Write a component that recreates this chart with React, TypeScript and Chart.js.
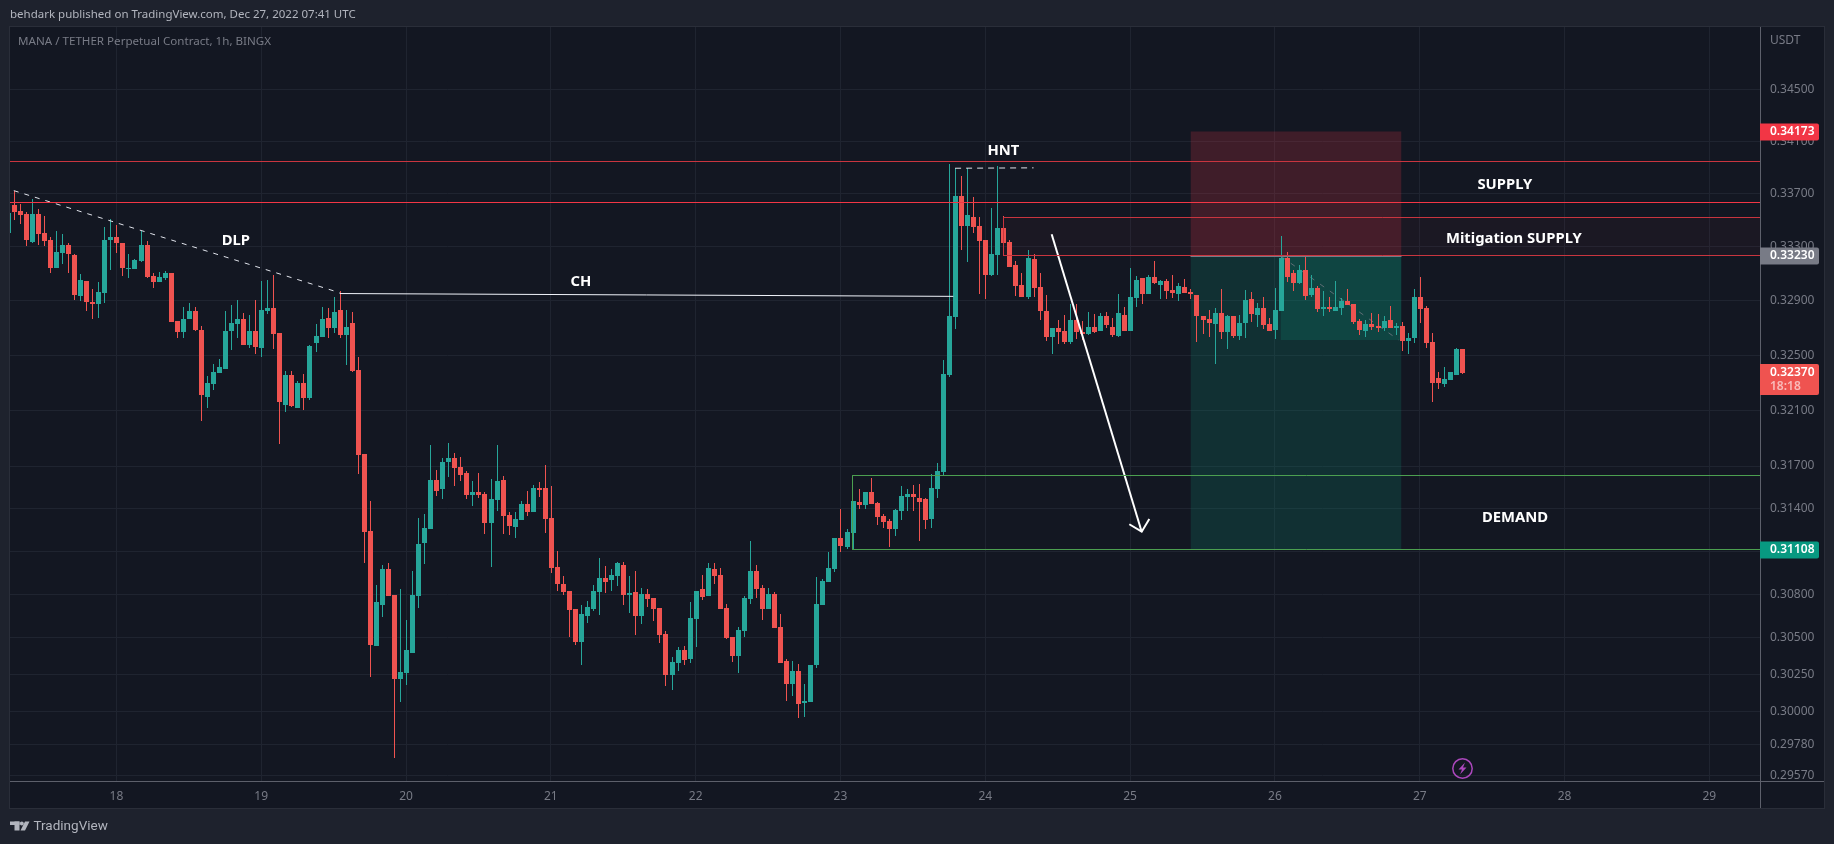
import React, { useEffect, useRef } from "react";
import { Chart, registerables } from "chart.js";

Chart.register(...registerables);

const FONT = "'Noto Sans', sans-serif";
const firstBar = -1;

const opens = [
.33405,.33615,.33570,.33548,.33337,.33548,.33405,.33352,.33143,.33255,
.33315,.33240,.32935,.33046,.32890,.32876,.32957,.33352,.33375,.33330,
.33136,.33136,.33195,.33315,.33084,.33039,.33069,.33106,.32750,.32669,
.32765,.32824,.32684,.32196,.32290,.32370,.32399,.32677,.32728,.32765,
.32574,.32677,.32552,.32824,.32846,.32662,.32138,.32355,.32116,.32297,
.32189,.32589,.32633,.32773,.32699,.32831,.32648,.32736,.32392,.31786,
.31241,.30444,.30726,.30975,.30795,.30219,.30260,.30396,.30788,.31156,
.31255,.31601,.31537,.31729,.31757,.31693,.31651,.31495,.31516,.31502,
.31297,.31459,.31601,.31353,.31269,.31318,.31431,.31375,.31544,.31544,
.31332,.30989,.30871,.30823,.30698,.30471,.30650,.30698,.30816,.30913,
.30899,.30927,.31003,.30795,.30816,.30650,.30802,.30774,.30705,.30526,
.30246,.30328,.30416,.30355,.30629,.30837,.30788,.30975,.30934,.30705,
.30505,.30375,.30547,.30767,.30961,.30844,.30698,.30802,.30574,.30341,
.30185,.30273,.30056,.30063,.30314,.30726,.30885,.30975,.31192,.31128,
.31227,.31445,.31424,.31516,.31438,.31346,.31311,.31255,.31382,.31480,
.31502,.31473,.31466,.31325,.31537,.31658,.32355,.32780,.33683,.33458,
.33525,.33458,.33352,.33091,.33240,.33443,.33337,.33165,.33017,.32927,
.33210,.33002,.32824,.32633,.32699,.32677,.32596,.32758,.32669,.32655,
.32706,.32677,.32787,.32706,.32640,.32795,.32677,.32920,.33069,.32950,
.33076,.33017,.33046,.32979,.32950,.33002,.32965,.32942,.32787,.32765,
.32728,.32809,.32669,.32787,.32640,.32736,.32912,.32795,.32846,.32728,
.32684,.32824,.33217,.33106,.33032,.33128,.32942,.32994,.32839,.32853,
.32824,.32846,.32898,.32876,.32750,.32677,.32728,.32714,.32699,.32758,
.32699,.32714,.32603,.32625,.32927,.32846,.32596,.32334,.32290,.32319,
.32355,.32544];

const highs = [
.33630,.33724,.33623,.33563,.33661,.33585,.33533,.33375,.33420,.33397,
.33330,.33247,.33098,.33046,.32987,.33039,.33450,.33510,.33465,.33330,
.33247,.33210,.33420,.33345,.33106,.33113,.33121,.33106,.32750,.32853,
.32883,.32853,.32714,.32348,.32435,.32472,.32824,.32868,.32905,.32809,
.32795,.32905,.33046,.33054,.33091,.32662,.32385,.32385,.32312,.32363,
.32574,.32728,.32853,.32846,.32927,.32972,.32831,.32817,.32486,.31786,
.31452,.30864,.31003,.31017,.30795,.30837,.30622,.30961,.31332,.31360,
.31850,.31672,.31757,.31864,.31793,.31764,.31665,.31594,.31651,.31516,
.31608,.31850,.31629,.31375,.31375,.31452,.31523,.31565,.31587,.31707,
.31558,.31100,.30927,.30823,.30698,.30726,.30753,.30864,.31051,.30996,
.30975,.31024,.31024,.30927,.30961,.30844,.30837,.30774,.30705,.30547,
.30368,.30437,.30444,.30746,.30823,.30934,.31017,.31017,.30982,.30732,
.30505,.30574,.30788,.31170,.31003,.30864,.30844,.30816,.30664,.30355,
.30341,.30321,.30185,.30314,.30920,.30906,.31093,.31192,.31396,.31255,
.31452,.31537,.31516,.31615,.31445,.31360,.31325,.31396,.31558,.31537,
.31565,.31573,.31473,.31644,.31722,.32464,.33926,.33896,.33835,.33896,
.33676,.33525,.33352,.33593,.33911,.33533,.33352,.33195,.33106,.33277,
.33247,.33106,.32942,.32699,.32758,.32795,.32876,.32876,.32750,.32817,
.32802,.32809,.32817,.32773,.32950,.32853,.33143,.33084,.33069,.33091,
.33195,.33054,.33061,.33091,.33032,.33061,.32987,.32942,.32787,.32831,
.32846,.32987,.32795,.32787,.32795,.32979,.32965,.32883,.32927,.32773,
.32994,.33382,.33262,.33128,.33165,.33232,.33091,.33009,.32972,.32927,
.33046,.32920,.32987,.32876,.32765,.32758,.32809,.32802,.32787,.32861,
.32736,.32743,.32662,.32987,.33076,.32861,.32662,.32377,.32414,.32377,
.32552,.32544];

const lows = [
.33367,.33503,.33473,.33307,.33330,.33315,.33307,.33106,.33143,.33173,
.33106,.32905,.32898,.32824,.32765,.32773,.32883,.33128,.33255,.33084,
.33069,.33136,.33188,.33069,.32994,.33039,.33054,.32743,.32625,.32625,
.32765,.32677,.32023,.32116,.32247,.32370,.32399,.32537,.32625,.32574,
.32552,.32508,.32486,.32802,.32544,.31857,.32088,.32124,.32116,.32102,
.32174,.32522,.32633,.32625,.32662,.32625,.32428,.32377,.31644,.31017,
.30232,.30444,.30643,.30788,.29687,.30063,.30178,.30396,.30705,.31010,
.31255,.31487,.31466,.31622,.31558,.31594,.31466,.31417,.31473,.31220,
.30989,.31382,.31220,.31213,.31192,.31318,.31346,.31375,.31480,.31227,
.30947,.30823,.30795,.30505,.30450,.30314,.30602,.30684,.30657,.30809,
.30823,.30857,.30726,.30671,.30519,.30595,.30712,.30616,.30464,.30171,
.30144,.30273,.30314,.30328,.30437,.30760,.30788,.30871,.30698,.30491,
.30334,.30260,.30505,.30732,.30774,.30622,.30698,.30567,.30328,.30069,
.30103,.29955,.29962,.30063,.30294,.30726,.30885,.30954,.31093,.31114,
.31107,.31396,.31396,.31431,.31283,.31262,.31128,.31206,.31318,.31382,
.31382,.31170,.31255,.31262,.31473,.31636,.32341,.32692,.33277,.33188,
.33405,.32950,.32912,.33084,.33091,.33232,.33150,.32935,.32927,.32912,
.32927,.32758,.32603,.32508,.32581,.32581,.32581,.32618,.32611,.32648,
.32662,.32677,.32699,.32633,.32633,.32677,.32677,.32853,.32876,.32950,
.33024,.32912,.32912,.32920,.32898,.32957,.32912,.32596,.32655,.32633,
.32435,.32618,.32544,.32625,.32611,.32625,.32743,.32706,.32692,.32677,
.32618,.32824,.33039,.32972,.33024,.32905,.32927,.32817,.32787,.32817,
.32824,.32795,.32868,.32728,.32648,.32633,.32684,.32669,.32677,.32699,
.32648,.32530,.32508,.32589,.32736,.32552,.32160,.32254,.32268,.32319,
.32355,.32363];

const closes = [
.33555,.33563,.33540,.33352,.33548,.33397,.33345,.33143,.33262,.33315,
.33247,.32942,.33054,.32890,.32876,.32965,.33352,.33375,.33330,.33143,
.33143,.33203,.33315,.33076,.33039,.33076,.33106,.32743,.32669,.32765,
.32824,.32684,.32210,.32297,.32377,.32414,.32677,.32736,.32765,.32574,
.32677,.32559,.32831,.32846,.32655,.32160,.32355,.32131,.32297,.32189,
.32566,.32640,.32765,.32699,.32817,.32648,.32706,.32385,.31778,.31234,
.30450,.30746,.30975,.30788,.30219,.30266,.30416,.30795,.31149,.31262,
.31601,.31523,.31729,.31757,.31686,.31636,.31495,.31516,.31495,.31297,
.31466,.31594,.31346,.31276,.31325,.31431,.31375,.31544,.31530,.31325,
.30982,.30871,.30816,.30691,.30471,.30664,.30712,.30823,.30913,.30885,
.30934,.31017,.30795,.30809,.30650,.30802,.30767,.30698,.30519,.30246,
.30334,.30416,.30348,.30636,.30823,.30781,.30982,.30927,.30698,.30498,
.30375,.30554,.30774,.30961,.30837,.30698,.30802,.30567,.30328,.30185,
.30273,.30049,.30069,.30314,.30732,.30892,.30982,.31192,.31135,.31234,
.31452,.31424,.31516,.31431,.31339,.31304,.31255,.31389,.31487,.31502,
.31480,.31445,.31318,.31544,.31665,.32363,.32787,.33683,.33458,.33540,
.33450,.33345,.33091,.33247,.33443,.33330,.33150,.33009,.32927,.33217,
.32994,.32824,.32633,.32699,.32669,.32596,.32758,.32669,.32655,.32706,
.32669,.32787,.32721,.32648,.32809,.32677,.32927,.33054,.32950,.33076,
.33032,.33046,.32972,.32957,.33009,.32957,.32950,.32787,.32758,.32736,
.32809,.32669,.32787,.32640,.32736,.32905,.32802,.32846,.32721,.32677,
.32831,.33217,.33076,.33032,.33128,.32935,.32994,.32839,.32853,.32839,
.32853,.32898,.32868,.32743,.32684,.32728,.32706,.32699,.32750,.32699,
.32714,.32603,.32625,.32927,.32839,.32589,.32297,.32297,.32326,.32377,
.32544,.32370];

const dayLabels = ["18","19","20","21","22","23","24","25","26","27","28","29"];
const dayTicks = [17,41,65,89,113,137,161,185,209,233,257,281];
const priceTicks = [.345,.341,.337,.333,.329,.325,.321,.317,.314,.311,.308,.305,.3025,.3,.2978,.2957];

const xMin = -0.633, xMax = 289.39, yMin = 0.29534, yMax = 0.34987;

const hntTop = 0.33945, supplyLow = 0.33636, mitigationTop = 0.33523, mitigationLow = 0.33238;
const demandTop = 0.31634, demandLow = 0.31108;
const stopPrice = 0.34173, entryPrice = 0.3323, targetPrice = 0.31108, lastPrice = 0.3237, pathEndPrice = 0.32611;
const boxStart = 195, boxEnd = 230, pathStart = 210, lineEnd = 292;

const annotations = [
  { text: "DLP", x: 36.8, y: 0.33352 },
  { text: "CH", x: 94, y: 0.33046 },
  { text: "HNT", x: 164, y: 0.34033 },
  { text: "SUPPLY", x: 247.1, y: 0.33775 },
  { text: "Mitigation SUPPLY", x: 248.6, y: 0.33371 },
  { text: "DEMAND", x: 248.8, y: 0.31341 },
];

const badges = [
  { price: stopPrice, text: "0.34173", color: "#f23645" },
  { price: entryPrice, text: "0.33230", color: "#787b86" },
  { price: targetPrice, text: "0.31108", color: "#089981" },
];

const TEAL = "#26a69a", RED = "#ef5350";
const barColors = opens.map((o, k) => (closes[k] >= o ? TEAL : RED));

const barBase = { type: "bar", grouped: false, borderWidth: 0, borderSkipped: false, inflateAmount: 0, backgroundColor: barColors };
const pts = (...p: number[][]) => p.map(([x, y]) => ({ x, y }));
const line = (data: any, color: string, width: number, extra: any = {}) => ({
  type: "line", data, borderColor: color, borderWidth: width, pointRadius: 0, fill: false, tension: 0, order: 0, borderCapStyle: "butt", ...extra,
});
const band = (x0: number, x1: number, top: number, low: number, color: string) => ({
  type: "line", data: pts([x0, top], [x1, top]), borderWidth: 0, pointRadius: 0, tension: 0, order: 30, backgroundColor: color, fill: { value: low }, snap: true,
});

const datasets: any[] = [
  band(164, lineEnd, mitigationTop, mitigationLow, "rgba(242,54,69,0.04)"),
  band(boxStart, boxEnd, stopPrice, entryPrice, "rgba(242,54,69,0.2)"),
  band(boxStart, boxEnd, entryPrice, targetPrice, "rgba(10,150,120,0.2)"),
  band(pathStart, boxEnd, entryPrice, pathEndPrice, "rgba(8,153,129,0.2)"),
  line(pts([pathStart, entryPrice], [229.5, pathEndPrice]), "rgba(120,123,134,0.75)", 1, { borderDash: [5, 7], order: 25 }),
  { ...barBase, order: 20, barThickness: 1, data: highs.map((h, k) => ({ x: k + firstBar, y: [lows[k], h] })) },
  { ...barBase, order: 10, barThickness: 5, data: opens.map((o, k) => ({ x: k + firstBar, y: [o, closes[k]] })) },
  line(pts([xMin - 2, hntTop], [lineEnd, hntTop]), "#c9353f", 1, { snap: true }),
  line(pts([xMin - 2, supplyLow], [lineEnd, supplyLow]), "#f23645", 1, { snap: true }),
  line(pts([lineEnd, mitigationTop], [164, mitigationTop], [164, mitigationLow], [lineEnd, mitigationLow]), "#c9353f", 1, { snap: true }),
  line(pts([lineEnd, demandTop], [139, demandTop], [139, demandLow], [lineEnd, demandLow]), "#4c9f50", 1, { snap: true }),
  line(pts([boxStart, entryPrice], [boxEnd, entryPrice]), "#787b86", 1, { snap: true }),
  line(pts([0, 0.33724], [54, 0.32959]), "#e0e3eb", 1, { borderDash: [5, 6] }),
  line(pts([54, 0.32953], [155.7, 0.32932]), "#f0f3fa", 1),
  line(pts([156, 0.33894], [169, 0.33897]), "#e0e3eb", 1, { borderDash: [6, 5] }),
  line(pts([172, 0.33395], [186.92, 0.31236]), "#ffffff", 2),
  line(pts([184.87, 0.31288], [186.92, 0.31236], [188.18, 0.31325]), "#ffffff", 2),
];

const chromePlugin = {
  id: "chrome",
  beforeDraw(chart: any) {
    const c = chart.ctx;
    c.save();
    c.fillStyle = "#1e222d";
    c.fillRect(0, 0, 1834, 844);
    c.fillStyle = "#2a2e39";
    c.fillRect(9, 26, 1816, 783);
    c.fillStyle = "#131722";
    c.fillRect(10, 27, 1814, 781);
    c.restore();
  },
  beforeDatasetsDraw(chart: any) {
    chart.getSortedVisibleDatasetMetas().forEach((meta: any) => {
      if (meta.type === "bar") {
        meta.data.forEach((el: any) => {
          el.x = Math.round(el.x) + 0.5;
          el.y = Math.round(el.y);
          el.base = Math.round(el.base);
          if (el.y === el.base) el.y = el.base - 1;
        });
      } else if (chart.data.datasets[meta.index].snap) {
        meta.data.forEach((p: any) => {
          p.y = Math.floor(p.y) + 0.5;
          p.x = Math.floor(p.x) + 0.5;
        });
      }
    });
  },
  afterDatasetsDraw(chart: any) {
    const c = chart.ctx;
    const xs = chart.scales.x, ys = chart.scales.y;
    c.save();
    c.textBaseline = "middle";

    // annotations on the price pane
    c.fillStyle = "#ffffff";
    c.textAlign = "center";
    c.font = `bold 14.8px ${FONT}`;
    annotations.forEach((a) => c.fillText(a.text, xs.getPixelForValue(a.x), ys.getPixelForValue(a.y) + 1));

    // axis lines
    c.fillStyle = "#5d606b";
    c.fillRect(1760, 27, 1, 781);
    c.fillRect(10, 781, 1814, 1);

    // price badges
    c.textAlign = "left";
    badges.forEach((b) => {
      const y = Math.round(ys.getPixelForValue(b.price));
      c.fillStyle = b.color;
      c.beginPath();
      c.roundRect(1760, y - 8.5, 59, 17, [0, 2, 2, 0]);
      c.fill();
      c.fillStyle = "#ffffff";
      c.font = `600 12px ${FONT}`;
      c.fillText(b.text, 1770, y);
    });
    const ly = Math.round(ys.getPixelForValue(lastPrice));
    c.fillStyle = RED;
    c.beginPath();
    c.roundRect(1760, ly - 9, 59, 31, [0, 2, 2, 0]);
    c.fill();
    c.fillStyle = "#ffffff";
    c.font = `600 12px ${FONT}`;
    c.fillText("0.32370", 1770, ly);
    c.fillStyle = "rgba(255,255,255,0.6)";
    c.fillText("18:18", 1770, ly + 14);

    // header, pane title, currency
    c.fillStyle = "#b2b5be";
    c.font = `11.5px ${FONT}`;
    c.fillText("behdark published on TradingView.com, Dec 27, 2022 07:41 UTC", 10, 15);
    c.fillStyle = "#787b86";
    c.font = `11.6px ${FONT}`;
    c.fillText("MANA / TETHER Perpetual Contract, 1h, BINGX", 18, 42);
    c.font = `12px ${FONT}`;
    c.fillText("USDT", 1770, 41);

    // event marker
    c.strokeStyle = "#ab47bc";
    c.lineWidth = 1.5;
    c.beginPath();
    c.arc(1462.5, 768.5, 9.7, 0, Math.PI * 2);
    c.stroke();
    c.fillStyle = "#ab47bc";
    c.beginPath();
    c.moveTo(1465, 762.5);
    c.lineTo(1458.5, 769.5);
    c.lineTo(1462, 769.5);
    c.lineTo(1460, 774.5);
    c.lineTo(1466.5, 767.5);
    c.lineTo(1463, 767.5);
    c.closePath();
    c.fill();

    // TradingView mark
    c.fillStyle = "#b2b5be";
    c.fillRect(10, 821.5, 9.5, 3.5);
    c.fillRect(14.5, 821.5, 5, 9);
    c.beginPath();
    c.arc(21.8, 823.4, 2, 0, Math.PI * 2);
    c.fill();
    c.beginPath();
    c.moveTo(25, 821.5);
    c.lineTo(29.5, 821.5);
    c.lineTo(25, 830.5);
    c.lineTo(20.5, 830.5);
    c.closePath();
    c.fill();
    c.font = `13.5px Roboto, ${FONT}`;
    c.fillText("TradingView", 33.5, 826.5);
    c.restore();
  },
};

export default function App() {
  const ref = useRef<HTMLCanvasElement>(null);
  useEffect(() => {
    document.body.style.margin = "0";
    const chart = new Chart(ref.current as any, {
      type: "bar",
      data: { datasets },
      plugins: [chromePlugin],
      options: {
        animation: false,
        responsive: false,
        devicePixelRatio: 1,
        events: [],
        layout: { padding: { left: 10, top: 27, right: 10, bottom: 36 } },
        plugins: { legend: { display: false }, tooltip: { enabled: false }, title: { display: false } },
        scales: {
          x: {
            type: "linear",
            position: "bottom",
            min: xMin,
            max: xMax,
            bounds: "data",
            offset: false,
            afterBuildTicks(s: any) { s.ticks = dayTicks.map((value) => ({ value })); },
            afterFit(s: any) { s.height = 27; s.paddingLeft = 0; s.paddingRight = 0; },
            grid: { color: "#1f2430", drawTicks: false, offset: false },
            border: { display: false },
            ticks: {
              autoSkip: false, maxRotation: 0, padding: 8, color: "#787b86",
              font: { family: FONT, size: 12 },
              callback: (v: any) => dayLabels[dayTicks.indexOf(v)],
            },
          },
          y: {
            type: "logarithmic",
            position: "right",
            min: yMin,
            max: yMax,
            bounds: "data",
            beginAtZero: false,
            afterBuildTicks(s: any) { s.ticks = priceTicks.map((value) => ({ value })); },
            afterFit(s: any) { s.width = 64; s.paddingTop = 0; s.paddingBottom = 0; },
            grid: { color: "#1f2430", drawTicks: false },
            border: { display: false },
            ticks: {
              autoSkip: false, padding: 10, color: "#787b86", crossAlign: "near",
              font: { family: FONT, size: 12 },
              callback: (v: any) => Number(v).toFixed(5),
            },
          },
        },
      } as any,
    } as any);
    return () => chart.destroy();
  }, []);
  return <canvas ref={ref} width={1834} height={844} style={{ display: "block", width: 1834, height: 844 }} />;
}
